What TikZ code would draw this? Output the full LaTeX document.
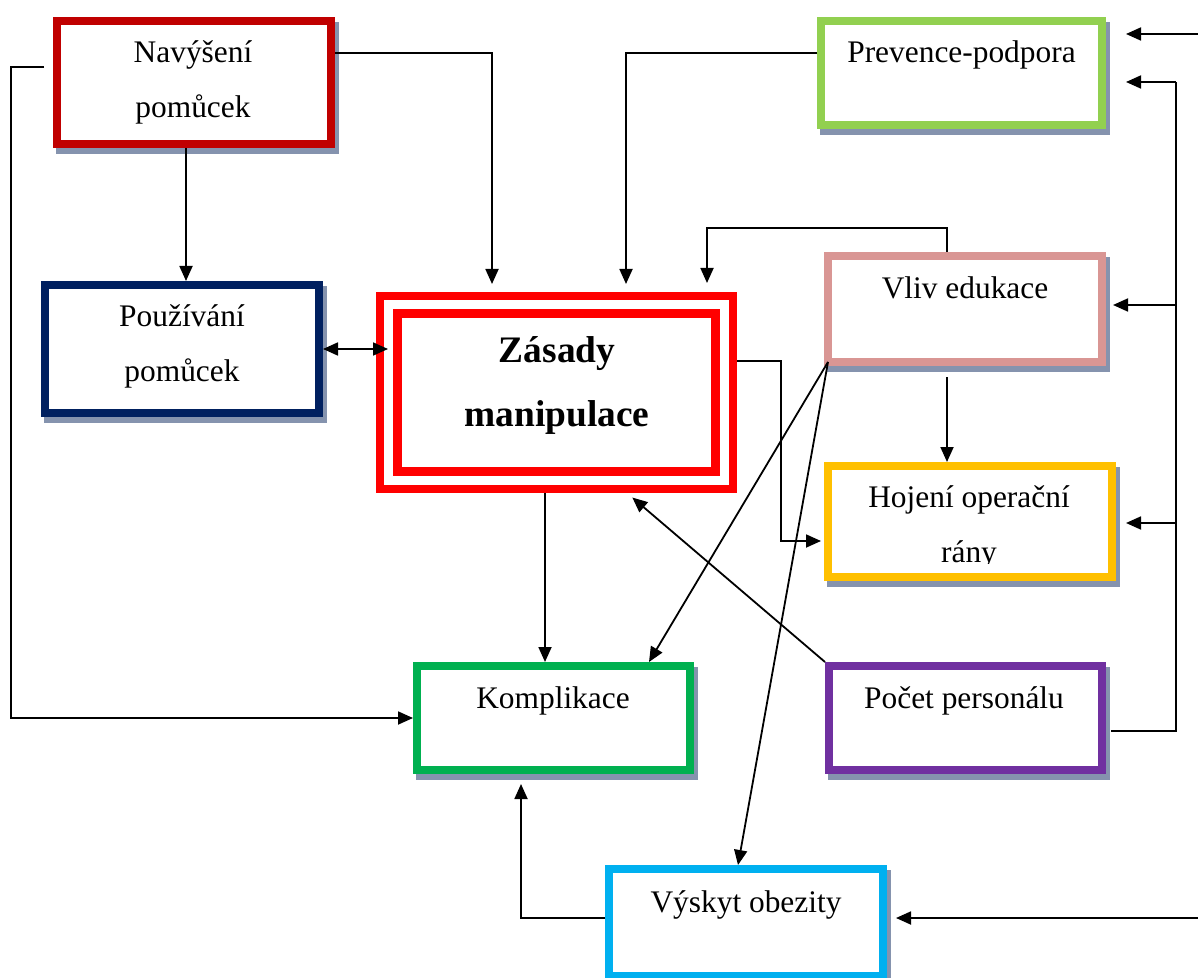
\documentclass[tikz,border=0pt]{standalone}
\usepackage{fontspec}
\setmainfont{Liberation Serif}
\usetikzlibrary{arrows.meta,calc}
\definecolor{cNav}{HTML}{C00000}
\definecolor{cPou}{HTML}{002060}
\definecolor{cZas}{HTML}{FF0000}
\definecolor{cPrev}{HTML}{92D050}
\definecolor{cVliv}{HTML}{D99694}
\definecolor{cHoj}{HTML}{FFC000}
\definecolor{cKom}{HTML}{00B050}
\definecolor{cPoc}{HTML}{7030A0}
\definecolor{cVys}{HTML}{00B0F0}
\definecolor{cShd}{HTML}{8593AE}
\begin{document}
\begin{tikzpicture}[x=0.5pt,y=-0.5pt,
  box/.style={draw, rectangle, line width=4pt, fill=white, inner sep=0pt},
  shd/.style={fill=cShd},
  ln/.style={line width=0.9pt},
  arr/.style={line width=0.9pt, -{Triangle[length=7.5pt,width=6.5pt]}},
  arrtwo/.style={line width=0.9pt, {Triangle[length=7.5pt,width=6.5pt]}-{Triangle[length=7.5pt,width=6.5pt]}},
  txt/.style={font=\fontsize{15.7}{27.5}\selectfont, inner sep=0pt, anchor=base},
  btxt/.style={font=\fontsize{18.7}{32}\selectfont\bfseries, inner sep=0pt, anchor=base}]
\useasboundingbox (0,0) rectangle (1198,978);
\fill[white] (0,0) rectangle (1198,978);
% shadows
\fill[shd] (56,22) rectangle (339,154);
\fill[shd] (44,286) rectangle (327,423);
\fill[shd] (820,22) rectangle (1110,135);
\fill[shd] (827,257) rectangle (1110,372);
\fill[shd] (827,467) rectangle (1120,587);
\fill[shd] (416,667) rectangle (698,780);
\fill[shd] (828,667) rectangle (1110,780);
\fill[shd] (608,870) rectangle (891,986);
% boxes
\node[box, draw=cNav, minimum width=137pt, minimum height=61.5pt] (nav) at (194,82.5) {};
\node[box, draw=cPou, minimum width=137pt, minimum height=64pt] (pou) at (182,349) {};
\node[box, draw=cZas, minimum width=176.5pt, minimum height=96.5pt] (zas) at (556.5,392.5) {};
\node[box, draw=cZas, line width=4.5pt, minimum width=159pt, minimum height=79pt] (zasin) at (556.5,392.5) {};
\node[box, draw=cPrev, minimum width=140.5pt, minimum height=52pt] (prev) at (961.5,73) {};
\node[box, draw=cVliv, minimum width=137pt, minimum height=53pt] (vliv) at (965,309) {};
\node[box, draw=cHoj, minimum width=142pt, minimum height=55.5pt] (hoj) at (970,521.5) {};
\node[box, draw=cKom, minimum width=136.5pt, minimum height=52pt] (kom) at (553.5,718) {};
\node[box, draw=cPoc, minimum width=136.5pt, minimum height=52pt] (poc) at (965.5,718) {};
\node[box, draw=cVys, minimum width=137pt, minimum height=53.5pt] (vys) at (746,922.5) {};
% texts
\node[txt] (tnav) at (193,63) {\begin{tabular}[t]{@{}c@{}}Navýšení\\pomůcek\end{tabular}};
\node[txt] (tpou) at (182,327) {\begin{tabular}[t]{@{}c@{}}Používání\\pomůcek\end{tabular}};
\node[btxt] (tzas) at (557,363) {\begin{tabular}[t]{@{}c@{}}Zásady\\manipulace\end{tabular}};
\node[txt] (tprev) at (961.5,63) {Prevence-podpora};
\node[txt] (tvliv) at (965,299) {Vliv edukace};
\begin{scope}
\clip (832,470) rectangle (1108,563);
\node[txt] (thoj) at (969,507) {\begin{tabular}[t]{@{}c@{}}Hojení operační\\rány\end{tabular}};
\end{scope}
\node[txt] (tkom) at (553,708) {Komplikace};
\node[txt] (tpoc) at (964,708) {Počet personálu};
\node[txt] (tvys) at (746,912) {Výskyt obezity};
% coordinates
\coordinate (rtone) at (1198,34);
\coordinate (rttwo) at (1198,918);
\coordinate (busb) at (1176,731);
\coordinate (bust) at (1176,82);
\coordinate (bl) at (11,67);
\coordinate (bv) at (707,228);
\coordinate (bh) at (781,541);
% connectors
\draw[arr] (nav.south -| 186,0) -- (pou.north -| 186,0);
\draw[arr,shorten >=4pt] (nav.east |- 0,53) -| (zas.north -| 492,0);
\draw[arr,shorten >=4pt] (prev.west |- 0,53) -| (zas.north -| 626,0);
\draw[arr,shorten >=4.5pt] (vliv.north -| 947,0) |- (bv) -- (zas.north -| 707,0);
\draw[arrtwo,shorten >=-6pt] (pou.east) -- (pou.east -| zas.west);
\draw[arr] (zas.south -| 545,0) -- (kom.north -| 545,0);
\draw[arr,shorten >=1.5pt] (zas.east |- 0,361) -| (bh) -- (hoj.west |- bh);
\draw[arr,shorten <=5.5pt] (vliv.south -| 947,0) -- (hoj.north -| 947,0);
\draw[arr] ([shift={(4,-4)}]vliv.south west) -- (kom.north -| 649,0);
\draw[arr] ([shift={(4,-4)}]vliv.south west) -- (vys.north -| 738,0);
\draw[arr,shorten >=3.5pt] (poc.north west) -- (zas.south -| 627,0);
\draw[ln,shorten <=2.5pt] (poc.east |- busb) -- (busb) -- (bust);
\draw[arr,shorten >=10pt] (bust) -- (prev.east |- bust);
\draw[arr,shorten >=3.5pt] (busb |- 0,305) -- (vliv.east |- 0,305);
\draw[arr,shorten >=5pt] (busb |- 0,523) -- (hoj.east |- 0,523);
\draw[arr,shorten >=10pt] (rtone) -- (prev.east |- rtone);
\draw[arr,shorten >=4.5pt] (rttwo) -- (vys.east |- rttwo);
\draw[arr,shorten >=5pt] (vys.west |- rttwo) -| (kom.south -| 521,0);
\draw[arr,shorten <=4.5pt] (nav.west |- bl) -- (bl) |- (kom.west);
\end{tikzpicture}
\end{document}
